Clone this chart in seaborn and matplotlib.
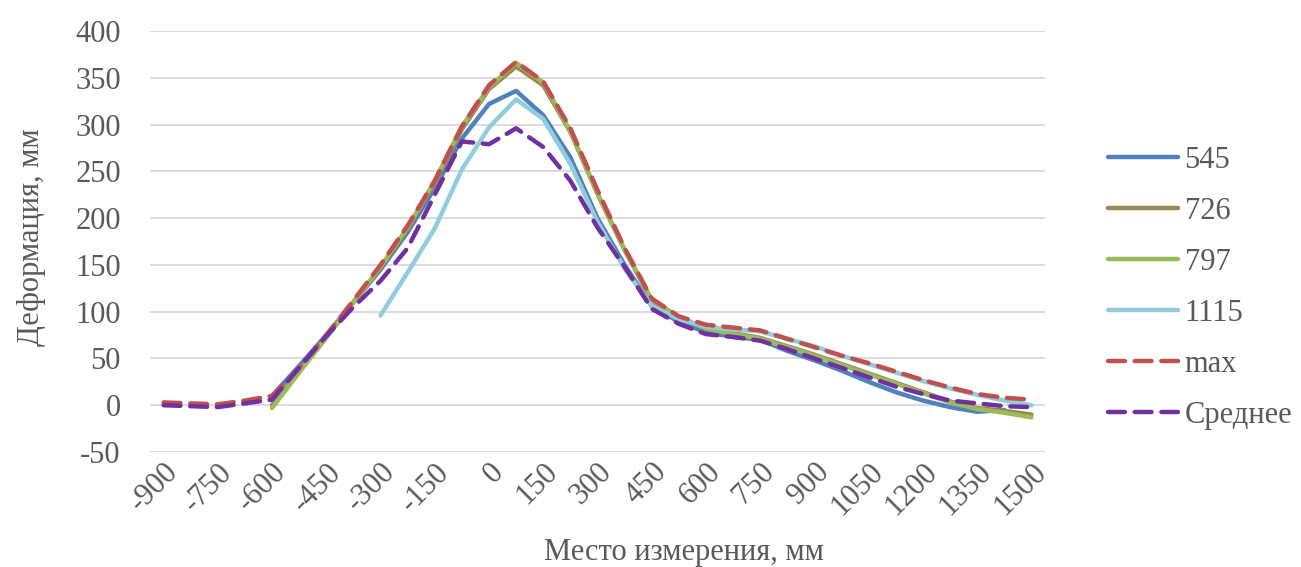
import numpy as np
import pandas as pd
import matplotlib
matplotlib.use("Agg")
import matplotlib.pyplot as plt
import seaborn as sns

nan = np.nan

# place of measurement, mm
positions = [-900, -825, -750, -675, -600, -525, -450, -375, -300, -225, -150, -75,
             0, 75, 150, 225, 300, 375, 450, 525, 600, 675, 750, 825, 900, 975,
             1050, 1125, 1200, 1275, 1350, 1425, 1500]

s545 = [nan, nan, nan, nan,
        10, 42, 75, 110, 145, 185, 232, 285, 322, 336,
        310, 265, 200, 150, 106, 89, 78, 73, 70, 58, 48, 37, 25, 14, 5,
        -2, -7, -5, nan]
s726 = [nan, nan, nan, nan,
        0, 37, 73, 110, 147, 189, 238, 295, 338, 362,
        342, 292, 226, 166, 112, 94, 82, 77, 72, 63, 54, 44, 34, 24, 14,
        4, -3, -6, -10]
s797 = [nan, nan, nan, nan,
        -3, 35, 72, 110, 148, 190, 240, 298, 340, 366,
        345, 293, 226, 166, 113, 94, 82, 76, 71, 62, 53, 43, 33, 23, 13,
        3, -4, -8, -13]
s1115 = [nan, nan, nan, nan, nan, nan, nan, nan,
         96, 142, 189, 252, 297, 327,
         306, 258, 196, 146, 106, 92, 84, 81, 79, 71, 63, 53, 44, 35, 26,
         18, 11, 5, 0]
s_max = [3, 2, 1, 5, 10, 40, 75, 112, 150, 192, 240, 298, 342, 367,
         346, 296, 230, 168, 114, 95, 86, 83, 80, 71, 62, 53, 45, 36, 27,
         19, 12, 8, 6]
s_mean = [0, -1, -2, 2, 6, 40, 74, 105, 133, 168, 225, 282, 279, 296,
          276, 240, 190, 148, 103, 87, 76, 73, 69, 60, 50, 40, 30, 20, 12,
          5, 2, -1, -2]

names = ["545", "726", "797", "1115", "max", "Среднее"]
series = [s545, s726, s797, s1115, s_max, s_mean]
colors = ["#4F81BD", "#948A54", "#9BBB59", "#92CDDC", "#C0504D", "#7030A0"]

rows = []
for name, vals in zip(names, series):
    for x, v in zip(positions, vals):
        rows.append({"x": x, "y": v, "series": name})
df = pd.DataFrame(rows).dropna()

sns.set_style("white")
plt.rcParams["font.family"] = ["Liberation Serif", "DejaVu Serif"]
plt.rcParams["axes.unicode_minus"] = False
txt = "#595959"

fig = plt.figure(figsize=(13.01, 5.67), dpi=100)
ax = fig.add_axes([0.1153, 0.2028, 0.8032 - 0.1153, 0.9453 - 0.2028])

dashes = {n: "" for n in names}
dashes["max"] = (3.8, 2.2)
dashes["Среднее"] = (3.8, 2.2)

sns.lineplot(data=df, x="x", y="y", hue="series", style="series",
             hue_order=names, style_order=names,
             palette=dict(zip(names, colors)), dashes=dashes,
             estimator=None, sort=True, linewidth=3.2, legend=False, ax=ax)

for ln in ax.lines:
    ln.set_dash_capstyle("round")
    ln.set_solid_capstyle("round")
    ln.set_solid_joinstyle("round")

ax.set_xlim(-937.5, 1537.5)
ax.set_ylim(-50, 400)
ax.set_yticks(np.arange(-50, 401, 50))
ax.set_xticks(positions[::2])
ax.set_xticklabels([str(p) for p in positions[::2]], rotation=45,
                   ha="right", va="top", rotation_mode="anchor")
ax.grid(axis="y", color="#D9D9D9", linewidth=1.3)
ax.set_axisbelow(True)
for sp in ax.spines.values():
    sp.set_visible(False)
ax.tick_params(axis="both", length=0, labelsize=22, labelcolor=txt)
ax.tick_params(axis="y", pad=21)
ax.tick_params(axis="x", pad=4)
ax.set_xlabel("")
ax.set_ylabel("")

fig.text(0.024, 0.582, "Деформация, мм", rotation=90, ha="center", va="center",
         fontsize=22, color=txt)
fig.text(0.526, 0.025, "Место измерения, мм", ha="center", va="center",
         fontsize=22, color=txt)

leg = ax.legend(handles=ax.lines[:6], labels=names, frameon=False,
                loc="center left", bbox_to_anchor=(0.840, 0.492),
                bbox_transform=fig.transFigure, fontsize=22,
                handlelength=2.3, handletextpad=0.2, labelspacing=0.72,
                borderpad=0)
for t in leg.get_texts():
    t.set_color(txt)

fig.savefig("out.png", dpi=100)
